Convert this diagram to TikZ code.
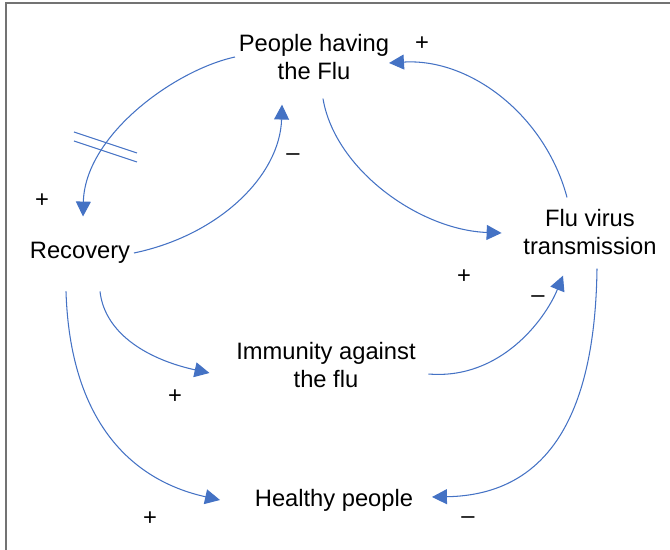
\documentclass[tikz,border=0pt]{standalone}
\usepackage{fontspec}
\setmainfont{Liberation Sans}
\usetikzlibrary{arrows.meta,calc}

\begin{document}
\begin{tikzpicture}[x=0.02cm,y=-0.02cm,
    var/.style={align=center,inner sep=2pt,font=\fontsize{13.5}{16}\selectfont},
    sign/.style={inner sep=0pt,font=\fontsize{13.5}{16}\selectfont},
    link/.style={-{Triangle[length=8.5pt,width=8.5pt]},draw=linkblue,line width=0.6pt}]
    \definecolor{linkblue}{HTML}{4472C4}
    \useasboundingbox (0,0) rectangle (670,550);
    \draw[gray!90!black,line width=0.8pt] (6,550) -- (6,3) -- (670,3);
    % variables
    \node[var] (people) at (314,57) {People having\\the Flu};
    \node[var] (recovery) at (80,253) {Recovery};
    \node[var] (flu) at (590,232) {Flu virus\\transmission};
    \node[var] (immunity) at (326,365) {Immunity against\\the flu};
    \node[var] (healthy) at (334,500) {Healthy people};
    % links
    \draw[link] (people.west) .. controls (175,70) and (85,135) .. ($(recovery.north)+(3,-22)$);
    \draw[linkblue,line width=0.6pt] (74,132) -- (137,153);
    \draw[linkblue,line width=0.6pt] (74,141) -- (137,162);
    \draw[link] (recovery.east) .. controls (220,235) and (280,175) .. ($(people.south)+(-32,21)$);
    \draw[link] ($(people.south)+(9,15)$) .. controls (335,170) and (420,230) .. ($(flu.west)+(-18,1)$);
    \draw[link] ($(flu.north)+(-23,-8)$) .. controls (545,115) and (470,58) .. ($(people.east)+(-4,6)$);
    \draw[link] ($(recovery.south)+(20,24)$) .. controls (105,335) and (150,360) .. ($(immunity.west)+(-23,8)$);
    \draw[link] ($(immunity.east)+(9,9)$) .. controls (500,380) and (545,320) .. ($(flu.south)+(-27,17)$);
    \draw[link] ($(recovery.south)+(-14,24)$) .. controls (70,420) and (130,480) .. ($(healthy.west)+(-31,0)$);
    \draw[link] ($(flu.south)+(7,10)$) .. controls (595,420) and (545,495) .. ($(healthy.east)+(15,-3)$);
    % polarities
    \node[sign] (s1) at (422,44) {+};
    \node[sign] (s2) at (293,157) {\textendash};
    \node[sign] (s3) at (42,201) {+};
    \node[sign] (s4) at (464,277) {+};
    \node[sign] (s5) at (538,299) {\textendash};
    \node[sign] (s6) at (175,397) {+};
    \node[sign] (s7) at (150,519) {+};
    \node[sign] (s8) at (468,520) {\textendash};
\end{tikzpicture}
\end{document}
